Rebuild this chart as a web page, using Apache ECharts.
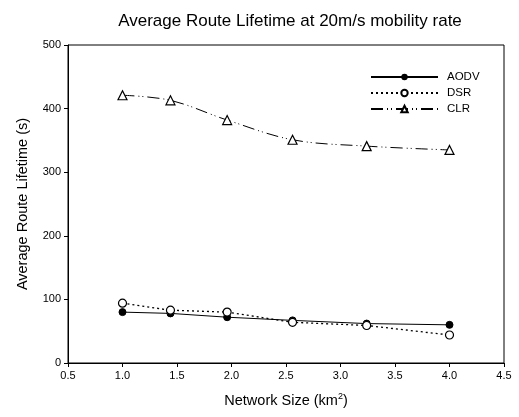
<!DOCTYPE html>
<html>
<head>
<meta charset="utf-8">
<script src="https://cdn.jsdelivr.net/npm/echarts@6/dist/echarts.min.js"></script>
<style>
  html, body { margin: 0; padding: 0; background: #fff; }
  #chart { width: 519px; height: 417px; }
</style>
</head>
<body>
<div id="chart"></div>
<script>
// network sizes (km^2)
var sizes = [1.0, 1.44, 1.96, 2.56, 3.24, 4.0];
// average route lifetime (s)
var aodv = [80, 78, 72, 67, 62, 60];
var dsr = [94, 83, 80, 64, 59, 44];
var clr = [421, 413, 382, 351, 341, 335];

function pairs(vals) {
  return sizes.map(function (x, i) { return [x, vals[i]]; });
}

var font = 'Liberation Sans, Arial, sans-serif';
var chart = echarts.init(document.getElementById('chart'));

chart.setOption({
  animation: false,
  backgroundColor: '#fff',
  title: {
    text: 'Average Route Lifetime at 20m/s mobility rate',
    left: 285,
    textAlign: 'center',
    top: 8,
    textStyle: { fontFamily: font, fontSize: 17, fontWeight: 'normal', color: '#000' }
  },
  legend: {
    orient: 'vertical',
    left: 365,
    top: 66,
    itemWidth: 67,
    itemHeight: 8,
    itemGap: 4,
    textStyle: { fontFamily: font, fontSize: 11.5, color: '#000', padding: [0, 0, 0, 4] },
    data: ['AODV', 'DSR', 'CLR']
  },
  grid: {
    left: 68, right: 15, top: 45, bottom: 54,
    show: true, borderColor: '#000', borderWidth: 1
  },
  xAxis: {
    type: 'value',
    min: 0.5, max: 4.5, interval: 0.5,
    name: 'Network Size (km{sup|2})',
    nameLocation: 'middle',
    nameGap: 29,
    nameTextStyle: {
      fontFamily: font, fontSize: 14.5, color: '#000',
      rich: { sup: { fontFamily: font, fontSize: 9, verticalAlign: 'top', padding: [0, 0, 9, 0], color: '#000' } }
    },
    axisLine: { lineStyle: { color: '#000' } },
    axisTick: { length: 4, lineStyle: { color: '#000' } },
    axisLabel: { fontFamily: font, fontSize: 11, color: '#000', margin: 7, formatter: function (v) { return v.toFixed(1); } },
    splitLine: { show: false }
  },
  yAxis: {
    type: 'value',
    min: 0, max: 500, interval: 100,
    name: 'Average Route Lifetime (s)',
    nameLocation: 'middle',
    nameGap: 38,
    nameTextStyle: { fontFamily: font, fontSize: 14.5, color: '#000' },
    axisLine: { show: true, lineStyle: { color: '#000' } },
    axisTick: { show: true, length: 4, lineStyle: { color: '#000' } },
    axisLabel: { fontFamily: font, fontSize: 11, color: '#000', margin: 7 },
    splitLine: { show: false }
  },
  series: [
    {
      name: 'AODV', type: 'line', data: pairs(aodv),
      symbol: 'circle', symbolSize: 7,
      lineStyle: { color: '#000', width: 1 },
      itemStyle: { color: '#000', borderColor: '#000' }
    },
    {
      name: 'DSR', type: 'line', data: pairs(dsr),
      symbol: 'circle', symbolSize: 8,
      lineStyle: { color: '#000', width: 1.3, type: [2, 3] },
      itemStyle: { color: '#fff', borderColor: '#000', borderWidth: 1.2 }
    },
    {
      name: 'CLR', type: 'line', data: pairs(clr),
      smooth: 0.35,
      symbol: 'triangle', symbolSize: 9,
      lineStyle: { color: '#000', width: 1, type: [12, 4, 1, 3, 1, 4] },
      itemStyle: { color: '#fff', borderColor: '#000', borderWidth: 1.2 }
    }
  ]
});
</script>
</body>
</html>
